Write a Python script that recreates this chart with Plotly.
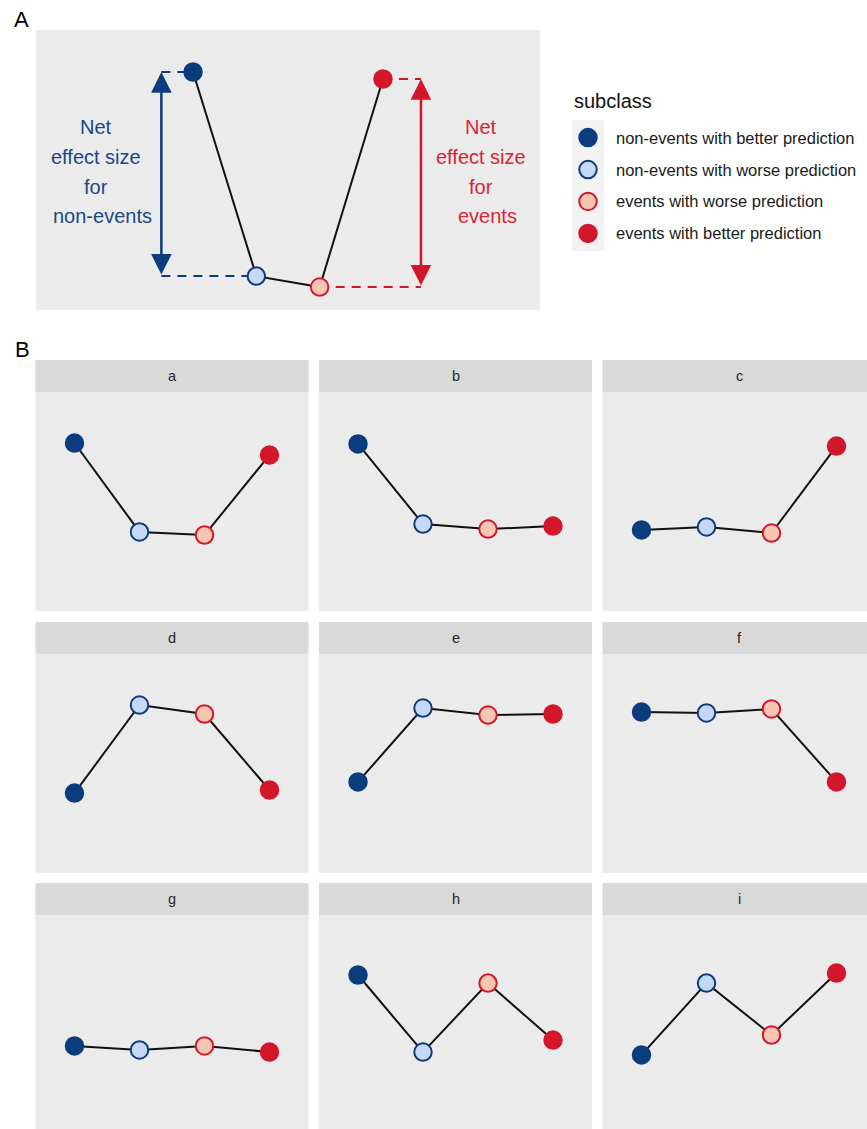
import plotly.graph_objects as go

W, H = 867, 1129

# ---------------- data ----------------
subclasses = [
    "non-events with better prediction",
    "non-events with worse prediction",
    "events with worse prediction",
    "events with better prediction",
]
positions = [1, 2, 3, 4]

# panel A (schematic)
overview_values = [0.850, 0.121, 0.082, 0.825]
arrow_x_nonevents = 0.5
arrow_x_events = 4.6
label_lines_nonevents = ["Net", "effect size", "for", "non-events"]
label_lines_events = ["Net", "effect size", "for", "events"]
label_line_y = [0.654, 0.546, 0.439, 0.336]

# panel B facets
facet_labels = ["a", "b", "c", "d", "e", "f", "g", "h", "i"]
values_a = [0.767, 0.361, 0.347, 0.712]
values_b = [0.763, 0.397, 0.374, 0.388]
values_c = [0.370, 0.384, 0.356, 0.753]
values_d = [0.365, 0.767, 0.726, 0.379]
values_e = [0.416, 0.753, 0.721, 0.726]
values_f = [0.735, 0.731, 0.749, 0.416]
values_g = [0.402, 0.384, 0.402, 0.374]
values_h = [0.726, 0.374, 0.689, 0.429]
values_i = [0.361, 0.689, 0.452, 0.735]
facet_values = [values_a, values_b, values_c, values_d, values_e,
                values_f, values_g, values_h, values_i]

# ---------------- style ----------------
DARK_BLUE = "#0B3C7D"
LIGHT_BLUE = "#C5D9F4"
LIGHT_RED = "#F7C6B3"
RED = "#D3172A"
fill_colors = [DARK_BLUE, LIGHT_BLUE, LIGHT_RED, RED]
edge_colors = [DARK_BLUE, DARK_BLUE, RED, RED]
BLUE_TEXT = "#1B4787"
RED_TEXT = "#DC2331"
PANEL_BG = "#EBEBEB"
STRIP_BG = "#D9D9D9"
FONT = "Liberation Sans, Arial, Helvetica, sans-serif"
MSIZE = 17.5
MLINE = 2


def xdom(left, right):
    return [left / W, min(right, W) / W]


def ydom(top, bottom):
    return [1 - min(bottom, H) / H, 1 - top / H]


def blank_axis(**kw):
    d = dict(showgrid=False, zeroline=False, showticklabels=False, ticks="",
             showline=False, fixedrange=True)
    d.update(kw)
    return d


fig = go.Figure()
layout_axes = {}
annotations = []
shapes = []

# ---------------- panel A ----------------
layout_axes["xaxis"] = blank_axis(domain=xdom(36, 540), range=[-1.48, 6.48])
layout_axes["yaxis"] = blank_axis(domain=ydom(30, 310), range=[0, 1])

dash = "9px,7px"
fig.add_trace(go.Scatter(x=[arrow_x_nonevents, positions[0]],
                         y=[overview_values[0]] * 2, mode="lines",
                         line=dict(color=DARK_BLUE, width=2, dash=dash),
                         xaxis="x", yaxis="y", showlegend=False, hoverinfo="skip"))
fig.add_trace(go.Scatter(x=[arrow_x_nonevents, positions[1]],
                         y=[overview_values[1]] * 2, mode="lines",
                         line=dict(color=DARK_BLUE, width=2, dash=dash),
                         xaxis="x", yaxis="y", showlegend=False, hoverinfo="skip"))
fig.add_trace(go.Scatter(x=[positions[3], arrow_x_events],
                         y=[overview_values[3]] * 2, mode="lines",
                         line=dict(color=RED, width=2, dash=dash),
                         xaxis="x", yaxis="y", showlegend=False, hoverinfo="skip"))
fig.add_trace(go.Scatter(x=[positions[2], arrow_x_events],
                         y=[overview_values[2]] * 2, mode="lines",
                         line=dict(color=RED, width=2, dash=dash),
                         xaxis="x", yaxis="y", showlegend=False, hoverinfo="skip"))
fig.add_trace(go.Scatter(x=positions, y=overview_values, mode="lines+markers",
                         line=dict(color="#111111", width=2),
                         marker=dict(size=MSIZE, color=fill_colors,
                                     line=dict(color=edge_colors, width=MLINE)),
                         text=subclasses, xaxis="x", yaxis="y", showlegend=False))

for ax_x, top_v, bot_v, col in [
    (arrow_x_nonevents, overview_values[0], overview_values[1], DARK_BLUE),
    (arrow_x_events, overview_values[3], overview_values[2], RED),
]:
    annotations.append(dict(
        x=ax_x, y=top_v, ax=ax_x, ay=bot_v, xref="x", yref="y",
        axref="x", ayref="y", text="", showarrow=True,
        arrowside="end+start", arrowhead=2, startarrowhead=2,
        arrowsize=1.65, startarrowsize=1.65, arrowwidth=2.5,
        arrowcolor=col, standoff=0, startstandoff=0))

label_x_nonevents = -0.53
label_x_events = 5.55
for i, (txt, yv) in enumerate(zip(label_lines_nonevents, label_line_y)):
    annotations.append(dict(x=label_x_nonevents, y=yv, xref="x", yref="y",
                            text=txt, showarrow=False, xanchor="center",
                            yanchor="middle", xshift=6 if i == 3 else 0,
                            font=dict(family=FONT, size=20, color=BLUE_TEXT)))
for i, (txt, yv) in enumerate(zip(label_lines_events, label_line_y)):
    annotations.append(dict(x=label_x_events, y=yv, xref="x", yref="y",
                            text=txt, showarrow=False, xanchor="center",
                            yanchor="middle", xshift=6 if i == 3 else 0,
                            font=dict(family=FONT, size=20, color=RED_TEXT)))

# ---------------- legend (manual) ----------------
layout_axes["xaxis11"] = blank_axis(domain=xdom(572, 604), range=[-1, 1])
layout_axes["yaxis11"] = blank_axis(domain=ydom(120, 251), range=[3.55, -0.55])
legend_idx = list(range(len(subclasses)))
shapes.append(dict(type="rect", xref="paper", yref="paper",
                   x0=572 / W, x1=604 / W, y0=1 - 251 / H, y1=1 - 120 / H,
                   fillcolor="#F2F2F2", line=dict(width=0), layer="below"))
fig.add_trace(go.Scatter(x=[0] * len(subclasses), y=legend_idx, mode="markers",
                         marker=dict(size=MSIZE, color=fill_colors,
                                     line=dict(color=edge_colors, width=MLINE)),
                         xaxis="x11", yaxis="y11", showlegend=False,
                         text=subclasses, hoverinfo="text"))
for k, name in enumerate(subclasses):
    annotations.append(dict(x=614 / W, y=k, xref="paper", yref="y11",
                            text=name, showarrow=False, xanchor="left",
                            yanchor="middle",
                            font=dict(family=FONT, size=16.5, color="#1A1A1A")))
annotations.append(dict(x=572 / W, y=1 - 101 / H, xref="paper", yref="paper",
                        text="subclass", showarrow=False, xanchor="left",
                        yanchor="middle",
                        font=dict(family=FONT, size=20, color="#111111")))

# ---------------- panel B facets ----------------
col_left = [35.5, 319, 602.5]
col_w = 273
strip_top = [360, 622, 883]
strip_h = 32
panel_h = 219
x_lo, x_hi = 0.4, 4.6

for k, (lab, vals) in enumerate(zip(facet_labels, facet_values)):
    r, c = divmod(k, 3)
    n = k + 2
    left = col_left[c]
    right = min(left + col_w, W)
    top = strip_top[r] + strip_h
    bottom = min(top + panel_h, H)
    xr = [x_lo, x_lo + (right - left) / col_w * (x_hi - x_lo)]
    yr = [1 - (bottom - top) / panel_h, 1]
    layout_axes[f"xaxis{n}"] = blank_axis(domain=xdom(left, right), range=xr)
    layout_axes[f"yaxis{n}"] = blank_axis(domain=ydom(top, bottom), range=yr)
    fig.add_trace(go.Scatter(x=positions, y=vals, mode="lines+markers",
                             line=dict(color="#111111", width=2),
                             marker=dict(size=MSIZE, color=fill_colors,
                                         line=dict(color=edge_colors, width=MLINE)),
                             text=subclasses, xaxis=f"x{n}", yaxis=f"y{n}",
                             showlegend=False))
    shapes.append(dict(type="rect", xref="paper", yref="paper",
                       x0=left / W, x1=right / W,
                       y0=1 - (strip_top[r] + strip_h) / H, y1=1 - strip_top[r] / H,
                       fillcolor=STRIP_BG, line=dict(width=0), layer="below"))
    annotations.append(dict(x=(left + col_w / 2) / W,
                            y=1 - (strip_top[r] + strip_h / 2) / H,
                            xref="paper", yref="paper", text=lab, showarrow=False,
                            xanchor="center", yanchor="middle",
                            font=dict(family=FONT, size=14.5, color="#262626")))

# panel letters
annotations.append(dict(x=12 / W, y=1 - 19.5 / H, xref="paper", yref="paper",
                        text="A", showarrow=False, xanchor="left", yanchor="middle",
                        font=dict(family=FONT, size=22, color="#000000")))
annotations.append(dict(x=13 / W, y=1 - 349.5 / H, xref="paper", yref="paper",
                        text="B", showarrow=False, xanchor="left", yanchor="middle",
                        font=dict(family=FONT, size=22, color="#000000")))

fig.update_layout(
    width=W, height=H, margin=dict(l=0, r=0, t=0, b=0),
    paper_bgcolor="white", plot_bgcolor=PANEL_BG,
    showlegend=False, annotations=annotations, shapes=shapes,
    font=dict(family=FONT),
    **layout_axes,
)

fig.write_html(
    "out.html",
    config={"displayModeBar": False},
    post_script="document.body.style.margin='0';document.body.style.overflow='hidden';",
)
